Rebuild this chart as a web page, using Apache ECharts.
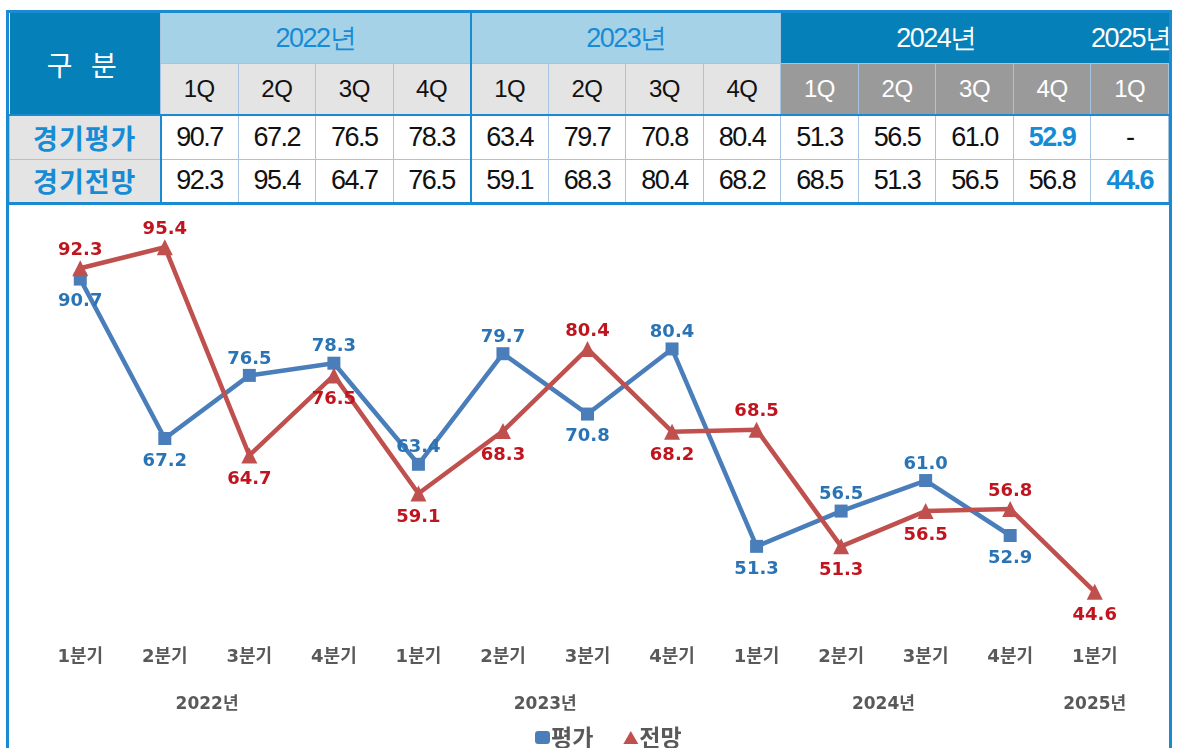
<!DOCTYPE html>
<html>
<head>
<meta charset="utf-8">
<script src="https://cdn.jsdelivr.net/npm/echarts@6/dist/echarts.min.js"></script>
<style>
  body { margin: 0; background: #fff; width: 1178px; height: 748px; overflow: hidden; position: relative; }
  .frame {
    position: absolute; left: 6px; top: 10px; width: 1166px; height: 760px;
    box-sizing: border-box; border: 3px solid #1a8bd0; border-bottom: none;
  }
  table.summary {
    position: absolute; left: 0; top: 0; width: 1160px;
    border-collapse: collapse; table-layout: fixed;
    font-family: "Liberation Sans", Arial, sans-serif;
  }
  table.summary td { text-align: center; padding: 0; border: 1px solid #a8c2e2; white-space: nowrap; overflow: visible; }
  table.summary td.corner { background: #0580b9; color: #fff; font-family: "Noto Sans CJK KR", sans-serif; font-size: 28px; letter-spacing: 6px; border: none; }
  table.summary td.yr-light { background: #a6d2e7; color: #168bd6; font-size: 27px; letter-spacing: -1.5px; border-top: none; }
  table.summary td.yr-dark { background: #0580b9; color: #fff; font-size: 27px; letter-spacing: -1.5px; border: none; }
  table.summary td.yr-dark.tail { text-align: right; padding-right: 2px; }
  table.summary td.q-light { background: #e4e4e4; color: #111; font-size: 24px; letter-spacing: -0.5px; }
  table.summary td.q-dark { background: #9a9a9a; color: #fff; font-size: 24px; letter-spacing: -0.5px; }
  table.summary td.row-label { background: #e4e4e4; color: #168bd6; font-family: "Noto Sans CJK KR", sans-serif; font-weight: bold; font-size: 27px; letter-spacing: 1px; border-right: 2px solid #1a8bd0; }
  table.summary td.val { background: #fff; color: #111; font-size: 27px; letter-spacing: -1.5px; }
  table.summary td.val.hl { color: #168bd6; font-weight: bold; }
  table.summary td.grp-start { border-left: 2px solid #1a8bd0; }
  table.summary tr.first-data td { border-top: 2px solid #1a8bd0; }
  table.summary tr.last-data td { border-bottom: 3px solid #1a8bd0; }
  #chart { position: absolute; left: 9px; top: 205px; width: 1160px; height: 543px; }
</style>
</head>
<body>
<div class="frame">
  <table class="summary" id="summary"></table>
</div>
<div id="chart"></div>
<script>
// 연도 구분
const years = ["2022년", "2023년", "2024년", "2025년"];
const yearSpans = [4, 4, 4, 1];
const quarters = ["1Q", "2Q", "3Q", "4Q", "1Q", "2Q", "3Q", "4Q", "1Q", "2Q", "3Q", "4Q", "1Q"];
const axisLabels = ["1분기", "2분기", "3분기", "4분기", "1분기", "2분기", "3분기", "4분기", "1분기", "2분기", "3분기", "4분기", "1분기"];
// 연도 라벨 위치 (분기 인덱스 기준)
const yearLabelAt = [1.5, 5.5, 9.5, 12];

// 경기평가 / 경기전망
const evalValues = [90.7, 67.2, 76.5, 78.3, 63.4, 79.7, 70.8, 80.4, 51.3, 56.5, 61.0, 52.9, null];
const outlookValues = [92.3, 95.4, 64.7, 76.5, 59.1, 68.3, 80.4, 68.2, 68.5, 51.3, 56.5, 56.8, 44.6];

// 라벨 위/아래
const evalLabelPos = ["bottom", "bottom", "top", "top", "top", "top", "bottom", "top", "bottom", "top", "top", "bottom", "top"];
const outlookLabelPos = ["top", "top", "bottom", "bottom", "bottom", "bottom", "top", "bottom", "top", "bottom", "bottom", "top", "bottom"];

// ---- 표 ----
function buildTable() {
  const t = document.getElementById("summary");
  let html = '<colgroup><col style="width:151px">';
  for (let i = 0; i < quarters.length; i++) html += '<col>';
  html += '</colgroup>';

  html += '<tr style="height:50px"><td class="corner" rowspan="2">구 분</td>';
  years.forEach((y, i) => {
    let cls = i < 2 ? "yr-light" : "yr-dark";
    if (i == 1) cls += " grp-start";
    if (i == years.length - 1) cls += " tail";
    html += '<td class="' + cls + '" colspan="' + yearSpans[i] + '">' + y + '</td>';
  });
  html += '</tr>';

  html += '<tr style="height:52px">';
  quarters.forEach((q, i) => {
    const cls = i < 8 ? "q-light" : "q-dark";
    const grp = i == 4 ? " grp-start" : "";
    html += '<td class="' + cls + grp + '">' + q + '</td>';
  });
  html += '</tr>';

  const rows = [["경기평가", evalValues, "first-data"], ["경기전망", outlookValues, "last-data"]];
  rows.forEach(r => {
    const vals = r[1];
    let last = -1;
    vals.forEach((v, i) => { if (v != null) last = i; });
    html += '<tr class="' + r[2] + '" style="height:44px"><td class="row-label">' + r[0] + '</td>';
    vals.forEach((v, i) => {
      const grp = i == 4 ? " grp-start" : "";
      const hl = i == last ? " hl" : "";
      html += '<td class="val' + grp + hl + '">' + (v == null ? "-" : v.toFixed(1)) + '</td>';
    });
    html += '</tr>';
  });
  t.innerHTML = html;
}
buildTable();

// ---- 차트 ----
const chart = echarts.init(document.getElementById("chart"));
const labelFont = '"DejaVu Sans", "Noto Sans CJK KR", sans-serif';

function pointItem(v, pos) {
  return { value: v, label: { position: pos, distance: pos == "top" ? 1 : 7 } };
}

chart.setOption({
  animation: false,
  grid: { left: 29, right: 32, top: 11, bottom: 125 },
  legend: {
    left: 521,
    bottom: -6,
    itemGap: 30,
    itemWidth: 15,
    itemHeight: 13,
    textStyle: { fontFamily: '"Noto Sans CJK KR", sans-serif', fontSize: 23, fontWeight: "bold", color: "#595959", padding: [0, 0, 0, -4] },
    data: [
      { name: "평가", icon: "roundRect" },
      { name: "전망", icon: "triangle" }
    ]
  },
  xAxis: [
    {
      type: "category",
      data: axisLabels,
      boundaryGap: true,
      axisLine: { show: false },
      axisTick: { show: false },
      axisLabel: { margin: 25, fontFamily: labelFont, fontSize: 18, fontWeight: "bold", color: "#595959" }
    },
    {
      // 연도 라벨용 축
      type: "value",
      min: -0.5,
      max: 12.5,
      interval: 0.5,
      position: "bottom",
      offset: 65,
      axisLine: { show: false },
      axisTick: { show: false },
      splitLine: { show: false },
      axisLabel: {
        margin: 8,
        fontFamily: labelFont,
        fontSize: 17,
        fontWeight: "bold",
        color: "#595959",
        formatter: function (v) {
          const k = yearLabelAt.findIndex(p => Math.abs(p - v) < 0.01);
          return k >= 0 ? years[k] : "";
        }
      }
    }
  ],
  yAxis: { type: "value", min: 40, max: 100, show: false },
  series: [
    {
      name: "평가",
      type: "line",
      xAxisIndex: 0,
      data: evalValues.map((v, i) => pointItem(v, evalLabelPos[i])),
      symbol: "rect",
      symbolSize: 13,
      lineStyle: { color: "#4a7ebb", width: 4.5 },
      itemStyle: { color: "#4a7ebb" },
      label: { show: true, fontFamily: labelFont, fontSize: 18, fontWeight: "bold", color: "#2a74b5", formatter: p => p.value.toFixed(1) }
    },
    {
      name: "전망",
      type: "line",
      xAxisIndex: 0,
      data: outlookValues.map((v, i) => pointItem(v, outlookLabelPos[i])),
      symbol: "triangle",
      symbolSize: 16,
      lineStyle: { color: "#c0504d", width: 4.5 },
      itemStyle: { color: "#c0504d" },
      label: { show: true, fontFamily: labelFont, fontSize: 18, fontWeight: "bold", color: "#c0141e", formatter: p => p.value.toFixed(1) }
    }
  ]
});
</script>
</body>
</html>
